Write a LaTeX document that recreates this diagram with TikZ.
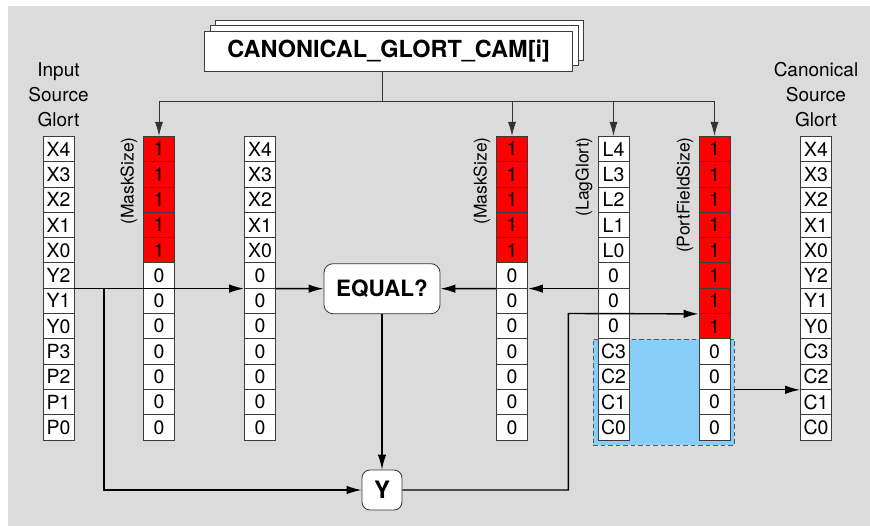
\documentclass[tikz,border=0pt]{standalone}
\usepackage{fontspec}
\setmainfont{TeX Gyre Heros}
\usetikzlibrary{arrows.meta}
\definecolor{bg}{RGB}{219,219,219}
\definecolor{cellline}{RGB}{60,60,60}
\definecolor{blueregion}{RGB}{135,206,250}
\definecolor{dashline}{RGB}{90,90,90}
\begin{document}
\begin{tikzpicture}[x=1pt,y=-1pt,
  cell/.style={draw=cellline, fill=white, line width=0.8pt, minimum width=31pt, minimum height=25.3pt, inner sep=0pt, font=\fontsize{19.5}{19.5}\selectfont},
  redcell/.style={cell, fill=red},
  hdr/.style={align=center, inner sep=0pt, font=\fontsize{19}{25}\selectfont},
  vlabel/.style={rotate=90, anchor=east, inner sep=0pt, font=\fontsize{17.5}{17.5}\selectfont},
  titlebox/.style={draw=cellline, fill=white, line width=0.8pt, minimum width=368pt, minimum height=40pt, inner sep=0pt},
  opbox/.style={draw=black!80, fill=white, line width=0.8pt, rounded corners=9pt, inner sep=0pt, font=\fontsize{22.5}{22.5}\selectfont\bfseries},
  conn/.style={line width=1.4pt, black},
  arr/.style={conn, -{Latex[length=15pt,width=8.5pt]}},
  thinconn/.style={line width=0.9pt, black!80},
  thinarr/.style={thinconn, -{Latex[length=14pt,width=8pt]}},
  bluebox/.style={draw=dashline, dash pattern=on 4.5pt off 3pt, fill=blueregion, line width=0.9pt, minimum width=141pt, minimum height=106pt, inner sep=0pt}
]
\useasboundingbox (0,0) rectangle (870,526);
\fill[bg] (8,6) rectangle (870,526);

% title stack
\node[titlebox] (title3) at (399.3,40.4) {};
\node[titlebox] (title2) at (394,45.7) {};
\node[titlebox, font=\fontsize{23.5}{23.5}\selectfont\bfseries] (title) at (388.7,51) {CANONICAL\_GLORT\_CAM[i]};

% headers
\node[hdr] (hin) at (58.5,95) {Input\\Source\\Glort};
\node[hdr] (hcan) at (816,95) {Canonical\\Source\\Glort};

% blue region
\node[bluebox] (blue) at (663.5,392) {};

% columns
\def\T{136.4}\def\H{25.3}
\foreach \t [count=\i from 0] in {X4,X3,X2,X1,X0,Y2,Y1,Y0,P3,P2,P1,P0}
  \node[cell] (in\i) at (58.5,\T+\H*\i+\H/2) {\t};
\foreach \t [count=\i from 0] in {X4,X3,X2,X1,X0,0,0,0,0,0,0,0}
  \node[cell] (cx\i) at (260,\T+\H*\i+\H/2) {\t};
\foreach \t [count=\i from 0] in {1,1,1,1,1,0,0,0,0,0,0,0}{
  \ifnum\i<5 \node[redcell] (ma\i) at (159,\T+\H*\i+\H/2) {\t};
             \node[redcell] (mb\i) at (512,\T+\H*\i+\H/2) {\t};
  \else      \node[cell] (ma\i) at (159,\T+\H*\i+\H/2) {\t};
             \node[cell] (mb\i) at (512,\T+\H*\i+\H/2) {\t};
  \fi}
\foreach \t [count=\i from 0] in {L4,L3,L2,L1,L0,0,0,0,C3,C2,C1,C0}
  \node[cell] (lg\i) at (613.5,\T+\H*\i+\H/2) {\t};
\foreach \t [count=\i from 0] in {1,1,1,1,1,1,1,1,0,0,0,0}{
  \ifnum\i<8 \node[redcell] (pf\i) at (714.5,\T+\H*\i+\H/2) {\t};
  \else      \node[cell] (pf\i) at (714.5,\T+\H*\i+\H/2) {\t};
  \fi}
\foreach \t [count=\i from 0] in {X4,X3,X2,X1,X0,Y2,Y1,Y0,C3,C2,C1,C0}
  \node[cell] (cn\i) at (816,\T+\H*\i+\H/2) {\t};

% rotated labels
\node[vlabel] (lma) at (129,137) {(MaskSize)};
\node[vlabel] (lmb) at (482,137) {(MaskSize)};
\node[vlabel] (llg) at (584,137) {(LagGlort)};
\node[vlabel] (lpf) at (685,137) {(PortFieldSize)};

% operators
\node[opbox, minimum width=116pt, minimum height=50pt] (equal) at (382,288.7) {EQUAL?};
\node[opbox, minimum width=40pt, minimum height=40pt, rounded corners=8pt, font=\fontsize{24}{24}\selectfont\bfseries] (ynode) at (382,490) {Y};

% top distribution
\coordinate (hub) at (382,101.7);
\coordinate (hl) at (159,101.7);
\coordinate (hr) at (714.5,101.7);
\draw[thinconn] (title.south -| hub) -- (hub);
\draw[thinconn] (hl) -- (hr);
\draw[thinarr] (hl) -- (ma0.north);
\draw[thinarr] (mb0.north |- hub) -- (mb0.north);
\draw[thinarr] (lg0.north |- hub) -- (lg0.north);
\draw[thinarr] (hr) -- (pf0.north);

% data paths
\coordinate (br) at (104,288.7);
\draw[arr] (in5.south east) -- (cx5.south west);
\draw[arr] (br) |- (ynode.west);
\draw[arr] (cx5.south east) -- (equal.west);
\draw[arr] (mb5.south west) -- (equal.east);
\draw[arr] (lg5.south west) -- (mb5.south east);
\draw[arr] (equal.south) -- (ynode.north);
\coordinate (turn) at (568.3,313.5);
\draw[arr] (ynode.east) -| (turn) -- (pf6.south west);
\draw[arr] (cn9.south west -| blue.east) -- (cn9.south west);
\end{tikzpicture}
\end{document}
